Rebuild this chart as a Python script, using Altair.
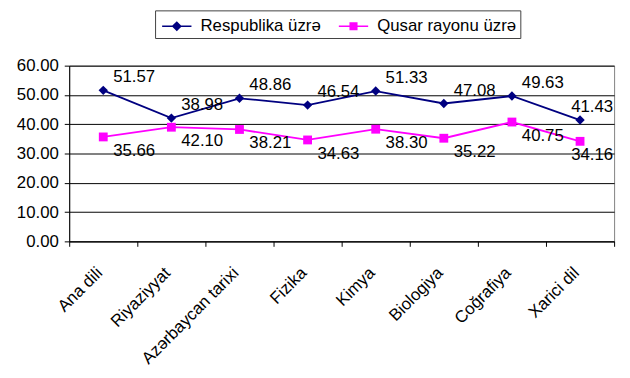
import altair as alt
import pandas as pd

subjects = ["Ana dili", "Riyaziyyat", "Azərbaycan tarixi", "Fizika", "Kimya",
            "Biologiya", "Coğrafiya", "Xarici dil"]
series_names = ["Respublika üzrə", "Qusar rayonu üzrə"]
respublika = [51.57, 42.10, 48.86, 46.54, 51.33, 47.08, 49.63, 41.43]
qusar = [35.66, 38.98, 38.21, 34.63, 38.30, 35.22, 40.75, 34.16]
# data labels as printed in the picture
respublika_labels = ["51.57", "38.98", "48.86", "46.54", "51.33", "47.08", "49.63", "41.43"]
qusar_labels = ["35.66", "42.10", "38.21", "34.63", "38.30", "35.22", "40.75", "34.16"]
y_ticks = [0, 10, 20, 30, 40, 50, 60]

colors = ["#000080", "#FF00FF"]
legend_shapes = [
    "M-1.35,0H1.35M-0.36,0L0,-0.36L0.36,0L0,0.36ZM-0.22,0L0,-0.22L0.22,0L0,0.22ZM-0.08,0L0,-0.08L0.08,0L0,0.08Z",
    "M-1.35,0H1.35M-0.3,-0.3H0.3V0.3H-0.3ZM-0.17,-0.17H0.17V0.17H-0.17ZM-0.05,-0.05H0.05V0.05H-0.05Z",
]

rows = []
for s, vals, labs in [(series_names[0], respublika, respublika_labels),
                      (series_names[1], qusar, qusar_labels)]:
    for subj, v, l in zip(subjects, vals, labs):
        rows.append({"subject": subj, "series": s, "value": v, "label": l})
df = pd.DataFrame(rows)

FONT = "Liberation Sans"
last_subject = subjects[-1]

x_enc = alt.X("subject:N", sort=subjects,
              scale=alt.Scale(type="band", paddingInner=0, paddingOuter=0),
              axis=alt.Axis(title=None, grid=False, tickBand="extent", labelAngle=-45,
                            labelAlign="right", labelBaseline="middle", labelPadding=24,
                            labelOffset=-4, labelFontSize=17, tickSize=5))
y_enc = alt.Y("value:Q", scale=alt.Scale(domain=[0, 60], nice=False),
              axis=alt.Axis(title=None, values=y_ticks, format=".2f", grid=True,
                            labelFontSize=17, tickSize=5, labelPadding=6))

base = alt.Chart(df)

layers = []
for i, s in enumerate(series_names):
    sub = base.transform_filter(alt.datum.series == s)
    layers.append(sub.mark_line(color=colors[i], strokeWidth=1.8).encode(x=x_enc, y=y_enc))
    layers.append(sub.mark_point(filled=True, opacity=1, color=colors[i],
                                 shape="diamond" if i == 0 else "square",
                                 size=90 if i == 0 else 80).encode(x=x_enc, y=y_enc))
    layers.append(sub.mark_text(
        align="left", baseline="middle",
        dx=alt.expr(f"datum.subject === '{last_subject}' ? -9 : 10"),
        dy=-13 if i == 0 else 14, fontSize=17, font=FONT,
        color="black").encode(x=x_enc, y=y_enc, text="label:N"))

legend = alt.Legend(title=None, orient="none", legendX=87, legendY=-56,
                    direction="horizontal", strokeColor="#404040", fillColor="white",
                    padding=4, symbolSize=484, symbolStrokeWidth=1.6, symbolOffset=6,
                    labelFontSize=17, labelFont=FONT, labelColor="black",
                    labelOffset=12, columnPadding=14, symbolOpacity=1)

legend_layer = base.transform_filter("false").mark_point(filled=False, strokeWidth=1.6).encode(
    x=x_enc, y=y_enc,
    color=alt.Color("series:N", scale=alt.Scale(domain=series_names, range=colors), legend=legend),
    shape=alt.Shape("series:N", scale=alt.Scale(domain=series_names, range=legend_shapes), legend=legend),
)
layers.append(legend_layer)

chart = alt.layer(*layers).properties(
    width=552, height=178,
    autosize=alt.AutoSizeParams(type="none"),
    padding={"left": 62, "top": 56, "right": 8, "bottom": 136},
).configure_axis(
    labelFont=FONT, labelColor="black", domainColor="black", tickColor="black",
    gridColor="black", gridWidth=1, domainWidth=1,
).configure_view(stroke="#808080", strokeWidth=1)

chart.save("out.html", embed_options={"renderer": "svg", "actions": False})
